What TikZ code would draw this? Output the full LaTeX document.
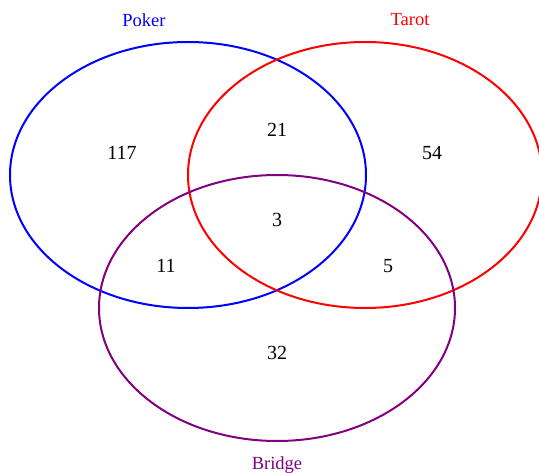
\documentclass[tikz,border=0pt]{standalone}
\usepackage{fontspec}
\setmainfont{Liberation Serif}
\definecolor{bridgec}{RGB}{128,0,128}
\begin{document}
\begin{tikzpicture}[x=1pt,y=-1pt,
  setshape/.style={line width=2pt},
  lbl/.style={font=\fontsize{18.5}{20}\selectfont,inner sep=0pt},
  num/.style={font=\fontsize{20}{22}\selectfont,inner sep=0pt}]
\useasboundingbox (0,0) rectangle (539,473);
\draw[setshape,blue] (188,175) ellipse [x radius=178, y radius=133];
\draw[setshape,red] (365,175) ellipse [x radius=177, y radius=133];
\draw[setshape,bridgec] (277,308) ellipse [x radius=178, y radius=133];
\node[lbl,text=blue] (poker) at (144,20) {Poker};
\node[lbl,text=red] (tarot) at (410,20) {Tarot};
\node[lbl,text=bridgec] (bridge) at (277,465) {Bridge};
\node[num] (n117) at (122,153) {117};
\node[num] (n21) at (277,130) {21};
\node[num] (n54) at (432,153) {54};
\node[num] (n3) at (277,220) {3};
\node[num] (n11) at (166,266) {11};
\node[num] (n5) at (388,266) {5};
\node[num] (n32) at (277,353) {32};
\end{tikzpicture}
\end{document}
